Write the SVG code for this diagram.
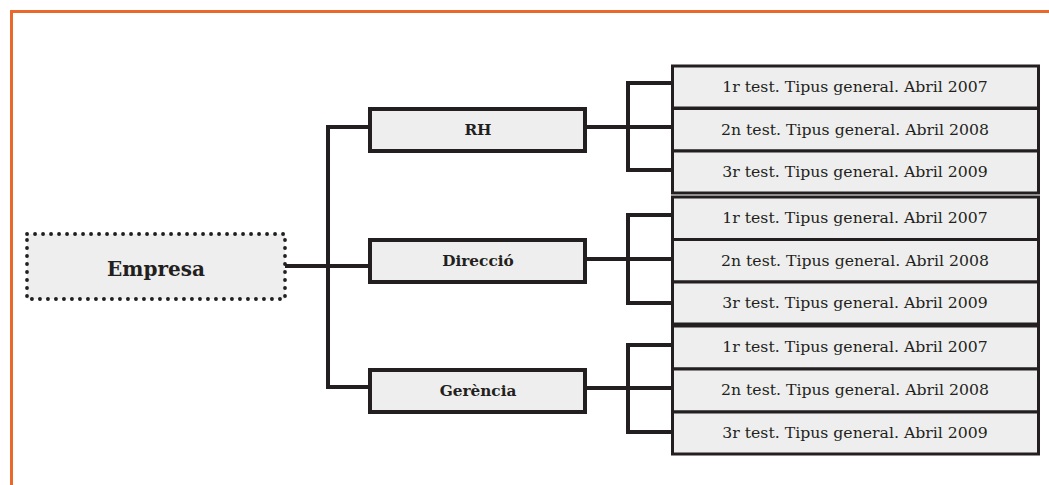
<svg xmlns="http://www.w3.org/2000/svg" width="1049" height="485" viewBox="0 0 1049 485">
<style>
.frame{stroke:#e8692b;stroke-width:3;fill:none}
.mid{fill:#eeeeee;stroke:#231f20;stroke-width:4}
.leaf{fill:#eeeeee;stroke:#231f20;stroke-width:3}
.conn{stroke:#231f20;stroke-width:4;fill:none;stroke-linejoin:miter}
.t{font-family:"DejaVu Serif","Liberation Serif",serif;font-size:15.7px;fill:#231f20;text-anchor:middle}
.b{font-family:"DejaVu Serif","Liberation Serif",serif;font-weight:bold;font-size:15.3px;fill:#231f20;text-anchor:middle}
</style>
<rect width="1049" height="485" fill="#ffffff"/>
<path class="frame" d="M11.5,485 V11.5 H1049"/>
<g id="connectors">
<path class="conn" d="M285,266 H370"/>
<path class="conn" d="M370,127 H328 V387 H370"/>
<path class="conn" d="M587,127 H628"/>
<path class="conn" d="M672,83 H628 V170 H672 M628,127 H672"/>
<path class="conn" d="M587,259 H628"/>
<path class="conn" d="M672,215 H628 V303 H672 M628,259 H672"/>
<path class="conn" d="M587,388 H628"/>
<path class="conn" d="M672,345 H628 V432 H672 M628,388 H672"/>
</g>
<g id="empresa">
<rect x="27" y="234" width="258" height="65" fill="#eeeeee" stroke="#231f20" stroke-width="3.8" stroke-dasharray="0.1 7.9" stroke-linecap="round"/>
<text x="156" y="276" class="b" style="font-size:20px">Empresa</text>
</g>
<g id="rh">
<rect class="mid" x="370" y="109" width="215" height="42"/>
<text class="b" x="478" y="135">RH</text>
</g>
<g id="direccio">
<rect class="mid" x="370" y="240" width="215" height="42"/>
<text class="b" x="478" y="266">Direcció</text>
</g>
<g id="gerencia">
<rect class="mid" x="370" y="370" width="215" height="42"/>
<text class="b" x="478" y="396">Gerència</text>
</g>
<g id="rh-1"><rect class="leaf" x="672.5" y="66" width="366" height="42"/><text class="t" x="855" y="92">1r test. Tipus general. Abril 2007</text></g>
<g id="rh-2"><rect class="leaf" x="672.5" y="108.5" width="366" height="42.5"/><text class="t" x="855" y="135">2n test. Tipus general. Abril 2008</text></g>
<g id="rh-3"><rect class="leaf" x="672.5" y="151" width="366" height="42"/><text class="t" x="855" y="177">3r test. Tipus general. Abril 2009</text></g>
<g id="dir-1"><rect class="leaf" x="672.5" y="197" width="366" height="42.5"/><text class="t" x="855" y="223">1r test. Tipus general. Abril 2007</text></g>
<g id="dir-2"><rect class="leaf" x="672.5" y="239.5" width="366" height="42.5"/><text class="t" x="855" y="266">2n test. Tipus general. Abril 2008</text></g>
<g id="dir-3"><rect class="leaf" x="672.5" y="282" width="366" height="42"/><text class="t" x="855" y="308">3r test. Tipus general. Abril 2009</text></g>
<g id="ger-1"><rect class="leaf" x="672.5" y="326" width="366" height="43"/><text class="t" x="855" y="352">1r test. Tipus general. Abril 2007</text></g>
<g id="ger-2"><rect class="leaf" x="672.5" y="369" width="366" height="43"/><text class="t" x="855" y="395">2n test. Tipus general. Abril 2008</text></g>
<g id="ger-3"><rect class="leaf" x="672.5" y="412" width="366" height="42"/><text class="t" x="855" y="438">3r test. Tipus general. Abril 2009</text></g>
</svg>
